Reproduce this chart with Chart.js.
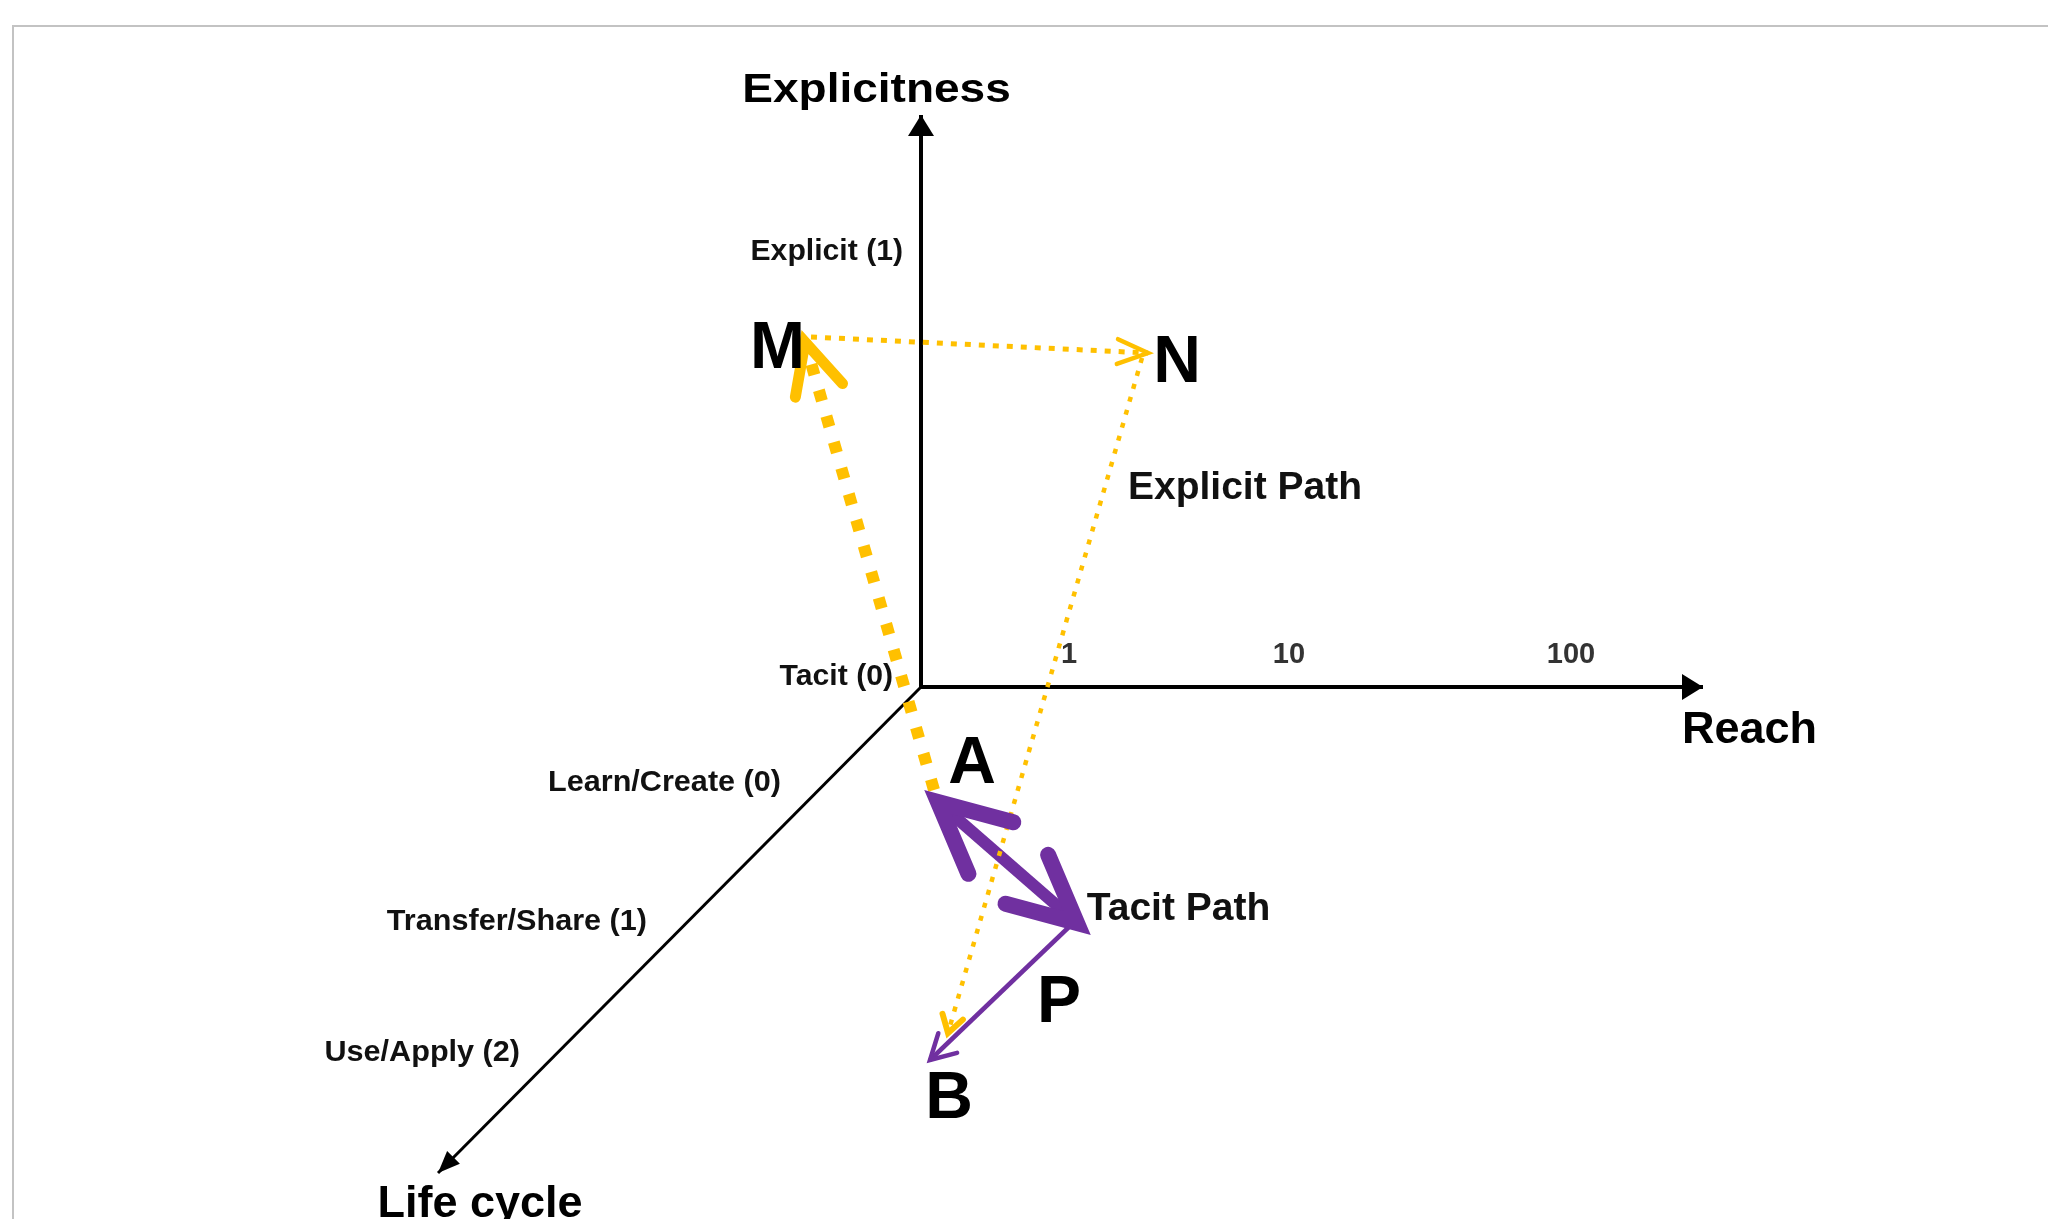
<!DOCTYPE html>
<html><head><meta charset="utf-8">
<script src="https://cdn.jsdelivr.net/npm/chart.js@4/dist/chart.umd.min.js"></script>
<style>
html,body{margin:0;padding:0;background:#fff;overflow:hidden;width:2048px;height:1219px;}
#frame{position:absolute;left:12px;top:25px;width:2100px;height:1300px;border-left:2px solid #c3c3c3;border-top:2px solid #c3c3c3;box-sizing:border-box;}
#wrap{position:absolute;left:0;top:0;width:2048px;height:1219px;}
</style></head><body>
<div id="frame"></div>
<div id="wrap"><canvas id="c" width="2048" height="1219"></canvas></div>
<script>
// ---------- DATA (diagram units; origin = Tacit / Learn-Create / reach 0 corner) ----------
const explicitnessAxis = [[0, 0], [0, 5.72]];
const reachAxis        = [[0, 0], [7.82, 0]];
const lifeCycleAxis    = [[0, 0], [-4.83, -4.86]];

const pathAtoM   = [[0.13, -1.03], [-1.16, 3.45]];   // thick dotted (tacit -> explicit)
const pathMtoN   = [[-1.10, 3.50], [2.27, 3.34]];    // explicit, reach grows
const pathNtoB   = [[2.21, 3.29], [0.27, -3.46]];    // explicit path down to B
const pathAtoP   = [[0.17, -1.15], [1.56, -2.36]];   // tacit path (two-way)
const pathPtoB   = [[1.49, -2.39], [0.09, -3.73]];   // tacit path to B

const axisTitles        = ['Explicitness', 'Reach', 'Life cycle'];
const axisTitleAnchors  = [[-0.445, 5.85], [8.285, -0.56], [-4.41, -5.30]];
const explicitnessTicks = ['Explicit (1)', 'Tacit (0)'];
const explicitnessTickAnchors = [[-0.18, 4.27], [-0.28, 0.02]];
const lifeCycleTicks    = ['Learn/Create (0)', 'Transfer/Share (1)', 'Use/Apply (2)'];
const lifeCycleTickAnchors = [[-1.40, -1.04], [-2.74, -2.43], [-4.01, -3.74]];
const reachTicks        = ['1', '10', '100'];
const reachTickAnchors  = [[1.48, 0.24], [3.68, 0.24], [6.50, 0.24]];
const pointLabels       = ['M', 'N', 'A', 'P', 'B'];
const pointLabelAnchors = [[-1.435, 3.19], [2.56, 3.05], [0.51, -0.96], [1.38, -3.35], [0.28, -4.31]];
const pathLabels        = ['Explicit Path', 'Tacit Path'];
const pathLabelAnchors  = [[3.24, 1.88], [2.575, -2.33]];

// ---------- STYLES ----------
const GOLD = '#FFC000', PURPLE = '#7030A0', INK = '#000000';
const FONT = '"Liberation Sans", Arial, Helvetica, sans-serif';
const X_RANGE = [-9.21, 11.27], Y_RANGE = [-5.32, 6.87];

const pts = a => a.map(p => ({x: p[0], y: p[1]}));

const datasets = [
  {data: pts(pathNtoB), borderColor: GOLD, borderWidth: 4.5, borderDash: [5, 8.5],
   arrowEnd: {type: 'open', len: 20, ang: 32, lw: 6, color: GOLD}},
  {data: pts(pathMtoN), borderColor: GOLD, borderWidth: 5, borderDash: [6, 8],
   arrowEnd: {type: 'open', len: 33, ang: 22, lw: 4.5, color: GOLD}},
  {data: pts(pathAtoM), borderColor: GOLD, borderWidth: 12, borderDash: [11, 16],
   arrowEnd: {type: 'open', len: 56, ang: 26, lw: 11, color: GOLD}},
  {data: pts(pathPtoB), borderColor: PURPLE, borderWidth: 4.5,
   arrowEnd: {type: 'open', len: 28, ang: 29, lw: 4.5, color: PURPLE}},
  {data: pts(pathAtoP), borderColor: PURPLE, borderWidth: 12,
   arrowEnd: {type: 'open', len: 74, ang: 26, lw: 16, color: PURPLE},
   arrowStart: {type: 'open', len: 78, ang: 26, lw: 16, color: PURPLE}},
  {data: pts(explicitnessAxis), borderColor: INK, borderWidth: 4,
   arrowEnd: {type: 'filled', len: 21, hw: 13, color: INK}},
  {data: pts(reachAxis), borderColor: INK, borderWidth: 4,
   arrowEnd: {type: 'filled', len: 21, hw: 13, color: INK}},
  {data: pts(lifeCycleAxis), borderColor: INK, borderWidth: 3,
   arrowEnd: {type: 'filled', len: 22, hw: 9, color: INK}},
].map(d => Object.assign({showLine: true, pointRadius: 0, pointHoverRadius: 0, fill: false,
  tension: 0, borderCapStyle: 'butt'}, d));

const labelGroups = [
  {texts: ['Explicitness'], anchors: [axisTitleAnchors[0]], font: 'bold 40px ' + FONT, align: 'center', sx: 1.15, color: INK},
  {texts: axisTitles.slice(1), anchors: axisTitleAnchors.slice(1), font: 'bold 45px ' + FONT, align: 'center', sx: 1, color: INK},
  {texts: explicitnessTicks, anchors: explicitnessTickAnchors, font: 'bold 29px ' + FONT, align: 'right', sx: 1.04, color: '#111'},
  {texts: lifeCycleTicks, anchors: lifeCycleTickAnchors, font: 'bold 30px ' + FONT, align: 'right', sx: 1.02, color: '#111'},
  {texts: reachTicks, anchors: reachTickAnchors, font: 'bold 29px ' + FONT, align: 'center', sx: 1, color: '#333'},
  {texts: pointLabels, anchors: pointLabelAnchors, font: 'bold 66px ' + FONT, align: 'center', sx: 1, color: INK},
  {texts: pathLabels, anchors: pathLabelAnchors, font: 'bold 39px ' + FONT, align: 'center', sx: 1, color: '#111'},
];

function drawHead(ctx, tip, from, spec) {
  const dx = from.x - tip.x, dy = from.y - tip.y;
  const L = Math.hypot(dx, dy) || 1;
  const ux = dx / L, uy = dy / L;
  ctx.save();
  if (spec.type === 'filled') {
    const bx = tip.x + ux * spec.len, by = tip.y + uy * spec.len;
    ctx.beginPath();
    ctx.moveTo(tip.x, tip.y);
    ctx.lineTo(bx - uy * spec.hw, by + ux * spec.hw);
    ctx.lineTo(bx + uy * spec.hw, by - ux * spec.hw);
    ctx.closePath();
    ctx.fillStyle = spec.color;
    ctx.fill();
  } else {
    const a = spec.ang * Math.PI / 180;
    const rot = (t) => ({x: ux * Math.cos(t) - uy * Math.sin(t), y: ux * Math.sin(t) + uy * Math.cos(t)});
    const w1 = rot(a), w2 = rot(-a);
    ctx.beginPath();
    ctx.moveTo(tip.x + w1.x * spec.len, tip.y + w1.y * spec.len);
    ctx.lineTo(tip.x, tip.y);
    ctx.lineTo(tip.x + w2.x * spec.len, tip.y + w2.y * spec.len);
    ctx.strokeStyle = spec.color;
    ctx.lineWidth = spec.lw;
    ctx.lineCap = 'round';
    ctx.lineJoin = 'miter';
    ctx.miterLimit = 10;
    ctx.setLineDash([]);
    ctx.stroke();
  }
  ctx.restore();
}

const arrowPlugin = {
  id: 'arrowHeads',
  afterDatasetsDraw(chart) {
    const ctx = chart.ctx;
    chart.data.datasets.forEach((ds, i) => {
      const el = chart.getDatasetMeta(i).data;
      if (el.length < 2) return;
      if (ds.arrowEnd) drawHead(ctx, el[el.length - 1], el[el.length - 2], ds.arrowEnd);
      if (ds.arrowStart) drawHead(ctx, el[0], el[1], ds.arrowStart);
    });
  }
};

const labelPlugin = {
  id: 'diagramLabels',
  afterDraw(chart) {
    const ctx = chart.ctx, xs = chart.scales.x, ys = chart.scales.y;
    labelGroups.forEach(g => {
      g.texts.forEach((t, k) => {
        const px = xs.getPixelForValue(g.anchors[k][0]);
        const py = ys.getPixelForValue(g.anchors[k][1]);
        ctx.save();
        ctx.font = g.font;
        ctx.fillStyle = g.color;
        ctx.textAlign = g.align;
        ctx.textBaseline = 'alphabetic';
        ctx.translate(px, py);
        ctx.scale(g.sx, 1);
        ctx.fillText(t, 0, 0);
        ctx.restore();
      });
    });
  }
};

new Chart(document.getElementById('c'), {
  type: 'scatter',
  data: {datasets},
  options: {
    responsive: false,
    animation: false,
    devicePixelRatio: 1,
    layout: {padding: 0},
    events: [],
    plugins: {legend: {display: false}, tooltip: {enabled: false}, title: {display: false}},
    scales: {
      x: {type: 'linear', min: X_RANGE[0], max: X_RANGE[1], display: false},
      y: {type: 'linear', min: Y_RANGE[0], max: Y_RANGE[1], display: false}
    }
  },
  plugins: [arrowPlugin, labelPlugin]
});
</script></body></html>
